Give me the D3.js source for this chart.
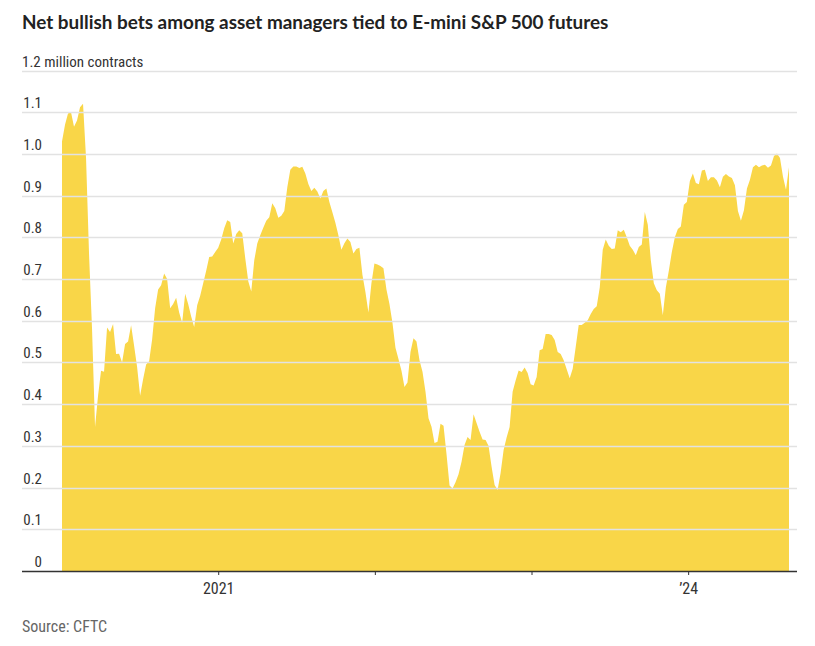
<!DOCTYPE html>
<html>
<head>
<meta charset="utf-8">
<script src="https://cdn.jsdelivr.net/npm/d3@7"></script>
<style>
  html, body { margin: 0; padding: 0; background: #fff; }
  svg { display: block; }
  .lbl { font-family: "Liberation Sans Narrow", "Roboto Condensed", "Arial Narrow", "Lato", sans-serif; }
</style>
</head>
<body>
<svg id="chart" width="815" height="646"></svg>
<script>
// Weekly CFTC reports, first report date and weekly net positions (million contracts)
const firstReport = "2020-01-03";
const netBullish = [
  1.03, 1.07, 1.097, 1.10, 1.065, 1.08, 1.112, 1.12, 0.99, 0.76,
  0.58, 0.345, 0.42, 0.48, 0.478, 0.584, 0.573, 0.592, 0.52, 0.521,
  0.50, 0.544, 0.55, 0.589, 0.54, 0.489, 0.42, 0.46, 0.495, 0.503,
  0.555, 0.63, 0.675, 0.685, 0.713, 0.70, 0.63, 0.64, 0.655, 0.62,
  0.595, 0.665, 0.64, 0.61, 0.585, 0.637, 0.66, 0.69, 0.72, 0.753,
  0.754, 0.765, 0.775, 0.795, 0.822, 0.841, 0.837, 0.785, 0.808, 0.817,
  0.81, 0.75, 0.695, 0.67, 0.745, 0.785, 0.805, 0.823, 0.84, 0.848,
  0.882, 0.87, 0.847, 0.852, 0.863, 0.92, 0.962, 0.97, 0.97, 0.966,
  0.969, 0.953, 0.928, 0.911, 0.919, 0.91, 0.893, 0.911, 0.917, 0.885,
  0.86, 0.835, 0.805, 0.77, 0.786, 0.797, 0.789, 0.761, 0.772, 0.775,
  0.71, 0.669, 0.62, 0.69, 0.737, 0.735, 0.731, 0.726, 0.675, 0.64,
  0.595, 0.535, 0.508, 0.48, 0.441, 0.452, 0.525, 0.558, 0.55, 0.505,
  0.478, 0.43, 0.366, 0.346, 0.307, 0.31, 0.353, 0.348, 0.28, 0.205,
  0.198, 0.213, 0.232, 0.262, 0.302, 0.321, 0.314, 0.376, 0.355, 0.334,
  0.315, 0.314, 0.30, 0.25, 0.206, 0.194, 0.235, 0.29, 0.32, 0.345,
  0.43, 0.457, 0.481, 0.477, 0.488, 0.475, 0.448, 0.445, 0.465, 0.529,
  0.532, 0.568, 0.568, 0.566, 0.554, 0.525, 0.52, 0.505, 0.484, 0.462,
  0.485, 0.537, 0.59, 0.59, 0.595, 0.601, 0.616, 0.628, 0.635, 0.68,
  0.77, 0.795, 0.78, 0.772, 0.773, 0.817, 0.812, 0.818, 0.80, 0.78,
  0.77, 0.757, 0.777, 0.783, 0.861, 0.83, 0.745, 0.69, 0.673, 0.665,
  0.613, 0.68, 0.72, 0.765, 0.80, 0.82, 0.826, 0.878, 0.885, 0.935,
  0.953, 0.93, 0.927, 0.96, 0.962, 0.935, 0.944, 0.944, 0.936, 0.92,
  0.945, 0.952, 0.946, 0.942, 0.925, 0.863, 0.84, 0.865, 0.917, 0.938,
  0.968, 0.974, 0.968, 0.972, 0.974, 0.967, 0.972, 0.995, 1.001, 0.99,
  0.945, 0.914, 0.968
];
const yTicks = [0, 0.1, 0.2, 0.3, 0.4, 0.5, 0.6, 0.7, 0.8, 0.9, 1.0, 1.1, 1.2];
const yTickLabels = ["0", "0.1", "0.2", "0.3", "0.4", "0.5", "0.6", "0.7", "0.8", "0.9", "1.0", "1.1", "1.2 million contracts"];
const xTicks = ["2021-01-01", "2022-01-01", "2023-01-01", "2024-01-01"];
const xTickLabels = ["2021", "", "", "\u201924"];
const title = "Net bullish bets among asset managers tied to E-mini S&P 500 futures";
const source = "Source: CFTC";

const parse = d3.utcParse("%Y-%m-%d");
const start = parse(firstReport);
const data = netBullish.map((v, i) => ({ date: d3.utcDay.offset(start, 7 * i), value: v }));

const svg = d3.select("#chart");
const left = 22, right = 797;
const x = d3.scaleUtc()
  .domain([start, data[data.length - 1].date])
  .range([62, 789]);
const y = d3.scaleLinear().domain([0, 1.2]).range([571, 70.5]);

// title
svg.append("text")
  .attr("x", 22).attr("y", 29)
  .attr("font-family", "Lato, 'Open Sans', sans-serif")
  .attr("font-weight", 700)
  .attr("font-size", 18.9)
  .attr("fill", "#222")
  .text(title);

// area
svg.append("path")
  .datum(data)
  .attr("fill", "#f9d648")
  .attr("d", d3.area().x(d => x(d.date)).y0(y(0)).y1(d => y(d.value)));

// gridlines
svg.append("g").selectAll("line")
  .data(yTicks.filter(t => t > 0))
  .join("line")
  .attr("x1", left).attr("x2", right)
  .attr("y1", d => Math.round(y(d)) + 0.5).attr("y2", d => Math.round(y(d)) + 0.5)
  .attr("stroke", "#e2e2e2").attr("stroke-width", 1.3);

// y labels
svg.append("g").selectAll("text")
  .data(yTicks)
  .join("text")
  .attr("class", "lbl")
  .attr("x", (d, i) => i === yTicks.length - 1 ? left : 42)
  .attr("y", d => y(d) - 4)
  .attr("text-anchor", (d, i) => i === yTicks.length - 1 ? "start" : "end")
  .attr("font-size", 15)
  .attr("fill", "#333")
  .text((d, i) => yTickLabels[i]);

// x axis
const xAxis = d3.axisBottom(x)
  .tickValues(xTicks.map(parse))
  .tickSize(4)
  .tickSizeOuter(0)
  .tickFormat((d, i) => xTickLabels[i]);
const gx = svg.append("g").attr("transform", "translate(0,571)").call(xAxis);
gx.select(".domain").remove();
gx.insert("line", ":first-child")
  .attr("x1", left).attr("x2", right).attr("y1", 0.5).attr("y2", 0.5)
  .attr("stroke", "#333").attr("stroke-width", 1.5);
gx.selectAll(".tick line").attr("stroke", "#333");
gx.selectAll(".tick text")
  .attr("class", "lbl")
  .attr("font-size", 16)
  .attr("fill", "#333")
  .attr("y", 12)
  .attr("dy", "0.71em");

// source
svg.append("text")
  .attr("class", "lbl")
  .attr("x", 22).attr("y", 632)
  .attr("font-size", 16)
  .attr("fill", "#666")
  .text(source);
</script>
</body>
</html>
